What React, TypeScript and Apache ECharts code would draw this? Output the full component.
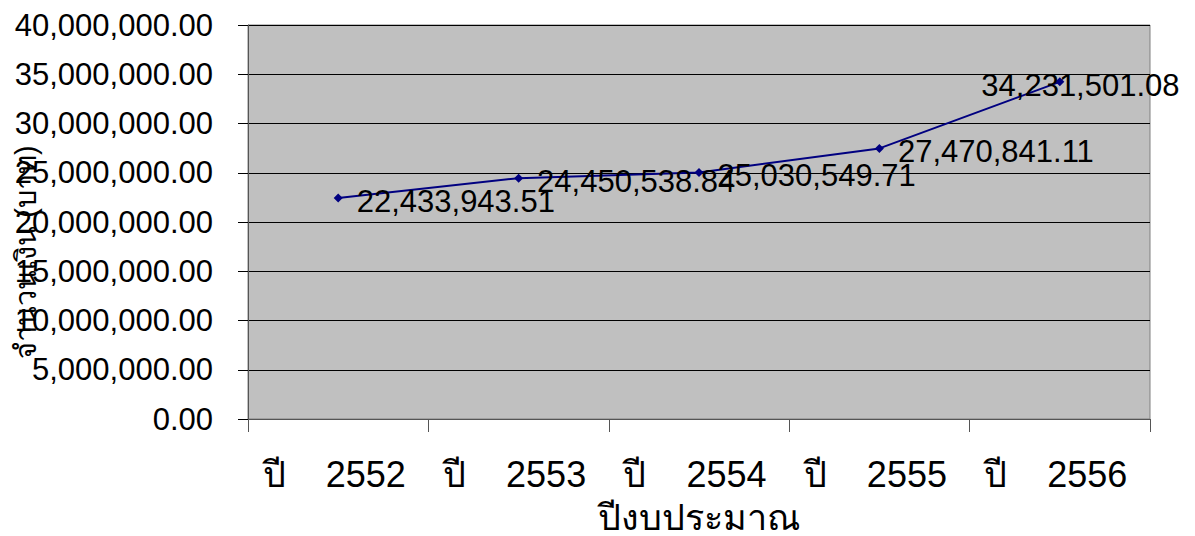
import React, { useEffect, useRef } from "react";
import * as echarts from "echarts";

const categories = ["ปี    2552", "ปี    2553", "ปี    2554", "ปี    2555", "ปี    2556"];
const values = [22433943.51, 24450538.84, 25030549.71, 27470841.11, 34231501.08];
const yMin = 0;
const yMax = 40000000;
const yInterval = 5000000;
const xTitle = "ปีงบประมาณ";
const yTitle = "จำนวนเงิน (บาท)";

const FONT = "'Liberation Sans', Arial, 'Noto Sans', sans-serif";

const fmt = (v: number) =>
  v.toLocaleString("en-US", { minimumFractionDigits: 2, maximumFractionDigits: 2 });

export default function App() {
  const ref = useRef<HTMLDivElement>(null);
  useEffect(() => {
    if (!ref.current) return;
    const chart = echarts.init(ref.current, null, { renderer: "svg" });
    const data = values.map((v, i) => {
      const last = i === values.length - 1;
      return {
        value: v,
        label: last
          ? { position: "right", distance: 5, offset: [-88, 4] }
          : { position: "right", distance: 14, offset: [0, 3] },
      };
    });
    chart.setOption({
      animation: false,
      backgroundColor: "#ffffff",
      grid: {
        left: 248,
        right: 45,
        top: 25,
        bottom: 117,
        show: true,
        backgroundColor: "#C0C0C0",
        borderColor: "#808080",
        borderWidth: 1,
      },
      xAxis: {
        type: "category",
        data: categories,
        boundaryGap: true,
        axisLine: { show: true, lineStyle: { color: "#555555", width: 1 } },
        axisTick: { show: true, interval: 0, length: 13, lineStyle: { color: "#555555" } },
        axisLabel: {
          interval: 0,
          hideOverlap: false,
          color: "#000",
          fontSize: 36,
          fontFamily: FONT,
          margin: 37,
          padding: [0, 8, 0, 0],
        },
        splitLine: { show: false },
      },
      yAxis: {
        type: "value",
        min: yMin,
        max: yMax,
        interval: yInterval,
        axisLine: { show: true, lineStyle: { color: "#555555", width: 1 } },
        axisTick: { show: true, length: 10, lineStyle: { color: "#000" } },
        axisLabel: {
          color: "#000",
          fontSize: 31,
          fontFamily: FONT,
          margin: 35,
          formatter: (v: number) => fmt(v),
        },
        splitLine: { show: true, lineStyle: { color: "#000", width: 1 } },
      },
      graphic: [
        {
          type: "text",
          x: 699,
          y: 517,
          style: {
            text: xTitle,
            fill: "#000",
            font: `36px ${FONT}`,
            textAlign: "center",
            textVerticalAlign: "middle",
          },
          z: 10,
        },
        {
          type: "text",
          x: 26,
          y: 252,
          rotation: Math.PI / 2,
          style: {
            text: yTitle,
            fill: "#000",
            font: `29px ${FONT}`,
            textAlign: "center",
            textVerticalAlign: "middle",
          },
          z: 10,
        },
      ],
      series: [
        {
          type: "line",
          data,
          symbol: "diamond",
          symbolSize: 9,
          lineStyle: { color: "#000080", width: 2 },
          itemStyle: { color: "#000080" },
          label: {
            show: true,
            color: "#000",
            fontSize: 31,
            fontFamily: FONT,
            formatter: (p: any) => fmt(p.value),
          },
          z: 5,
        },
      ],
    });
    return () => chart.dispose();
  }, []);
  return (
    <div
      ref={ref}
      style={{ position: "fixed", left: 0, top: 0, width: 1195, height: 536 }}
    />
  );
}
